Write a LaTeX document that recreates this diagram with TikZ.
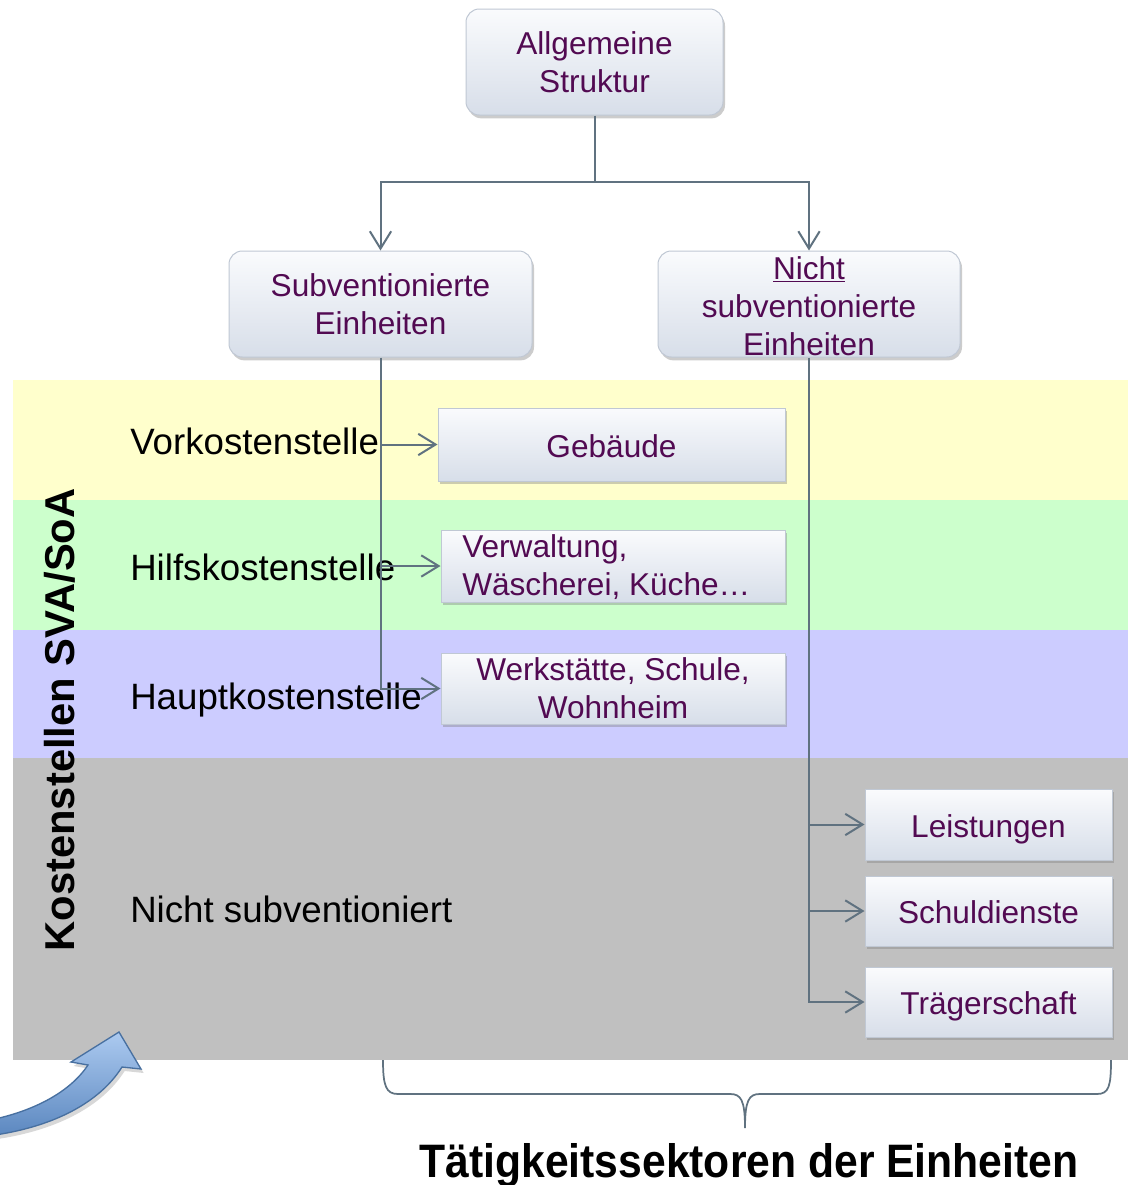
\documentclass[tikz,border=0pt]{standalone}
\usepackage{fontspec}
\usepackage{graphicx}
\setmainfont{Liberation Sans}
\usetikzlibrary{arrows.meta,shadows}
\definecolor{conn}{RGB}{96,114,128}
\definecolor{purp}{RGB}{82,10,82}
\definecolor{boxborder}{RGB}{192,200,212}
\definecolor{boxtop}{RGB}{250,251,253}
\definecolor{boxbot}{RGB}{215,222,233}
\definecolor{bandY}{RGB}{255,255,204}
\definecolor{bandG}{RGB}{204,255,204}
\definecolor{bandL}{RGB}{204,204,255}
\definecolor{bandS}{RGB}{192,192,192}
\definecolor{arrowlight}{RGB}{172,202,240}
\definecolor{arrowdark}{RGB}{92,136,192}
\definecolor{arrowline}{RGB}{72,112,160}
\begin{document}
\begin{tikzpicture}[x=0.75pt,y=-0.75pt,
  boxbase/.style={draw=boxborder, line width=0.75pt, top color=boxtop, bottom color=boxbot,
    drop shadow={opacity=0.4, shadow xshift=1.5pt, shadow yshift=-2.5pt}, inner sep=0pt},
  rbox/.style={boxbase, rounded corners=10pt},
  sbox/.style={boxbase},
  txt/.style={text=purp, font=\fontsize{23.7}{28.5}\selectfont, align=center},
  oneline/.style={text height=22pt, text depth=2.8pt},
  lbl/.style={text=black, font=\fontsize{27.5}{33}\selectfont, anchor=base west, inner sep=0pt},
  conline/.style={draw=conn, line width=1.5pt},
  arr/.style={conline, -{Straight Barb[length=13pt,width=16pt,line width=1.5pt]}}
]
\useasboundingbox (0,0) rectangle (1128,1185);
\fill[white] (0,0) rectangle (1128,1185);

% bands
\fill[bandY] (13,380) rectangle (1128,500);
\fill[bandG] (13,500) rectangle (1128,630);
\fill[bandL] (13,630) rectangle (1128,758);
\fill[bandS] (13,758) rectangle (1128,1060);

% band labels
\node[lbl] (lv) at (130,454) {Vorkostenstelle};
\node[lbl] (lh) at (130,580) {Hilfskostenstelle};
\node[lbl] (lp) at (130,709) {Hauptkostenstelle};
\node[lbl] (ln) at (130,922) {Nicht subventioniert};
\node[rotate=90, font=\fontsize{31.3}{36}\selectfont\bfseries, inner sep=0pt] (side) at (60,720) {Kostenstellen SVA/SoA};

% boxes
\node[rbox, txt, minimum width=192.75pt, minimum height=79.5pt] (top) at (594.5,62) {Allgemeine\\Struktur};
\node[rbox, txt, minimum width=227.25pt, minimum height=79.5pt] (sub) at (380.5,304) {Subventionierte\\Einheiten};
\node[rbox, minimum width=226.5pt, minimum height=79.5pt] (nicht) at (809,304) {};
\node[txt, inner sep=0pt] (nichttxt) at (809,306) {\underline{Nicht}\\subventionierte\\Einheiten};

\node[sbox, txt, oneline, minimum width=260.25pt, minimum height=54.75pt] (geb) at (611.5,444.5) {Gebäude};
\node[sbox, minimum width=258pt, minimum height=54pt] (verw) at (613,566) {};
\node[txt, align=left, anchor=west, inner sep=0pt] (verwtxt) at (462,567) {Verwaltung,\\Wäscherei, Küche…};
\node[sbox, txt, minimum width=258pt, minimum height=53.25pt] (werk) at (613,688.5) {Werkstätte, Schule,\\Wohnheim};

\node[sbox, txt, oneline, minimum width=185.25pt, minimum height=53.25pt] (leist) at (988.5,824.5) {Leistungen};
\node[sbox, txt, oneline, minimum width=185.25pt, minimum height=52.5pt] (schuld) at (988.5,911) {Schuldienste};
\node[sbox, txt, oneline, minimum width=185.25pt, minimum height=52.5pt] (trag) at (988.5,1002) {Trägerschaft};

% connectors
\coordinate (mid) at (594.5,182);
\draw[conline] (top.south) -- (mid);
\draw[arr] (mid) -| (sub.north);
\draw[arr] (mid) -| (nicht.north);

\draw[arr] (sub.south) |- (werk.west);
\draw[arr] (sub.south |- geb.west) -- (geb.west);
\draw[arr] (sub.south |- verw.west) -- (verw.west);

\draw[arr] (nicht.south) |- (trag.west);
\draw[arr] (nicht.south |- leist.west) -- (leist.west);
\draw[arr] (nicht.south |- schuld.west) -- (schuld.west);

% brace
\draw[conline, line width=1.3pt]
  (383,1060) .. controls (383,1086) and (386,1094) .. (398,1094) -- (730,1094)
  .. controls (741,1094) and (745,1100) .. (745,1128)
  .. controls (745,1100) and (749,1094) .. (760,1094) -- (1097,1094)
  .. controls (1109,1094) and (1111,1086) .. (1111,1060);
\node[font=\fontsize{32}{36}\selectfont\bfseries, inner sep=0pt, anchor=base] (bottomlbl) at (749,1177) {\scalebox{1}[1.1]{Tätigkeitssektoren der Einheiten}};

% blue curved arrow
\path[draw=arrowline, line width=1pt, top color=arrowlight, bottom color=arrowdark,
  drop shadow={opacity=0.3, shadow xshift=2pt, shadow yshift=-3pt}]
  (-5,1119) .. controls (35,1110) and (70,1092) .. (88,1065) -- (71,1062) -- (119,1032)
  -- (141,1069) -- (122,1067) .. controls (100,1102) and (55,1126) .. (-5,1135) -- cycle;
\end{tikzpicture}
\end{document}
